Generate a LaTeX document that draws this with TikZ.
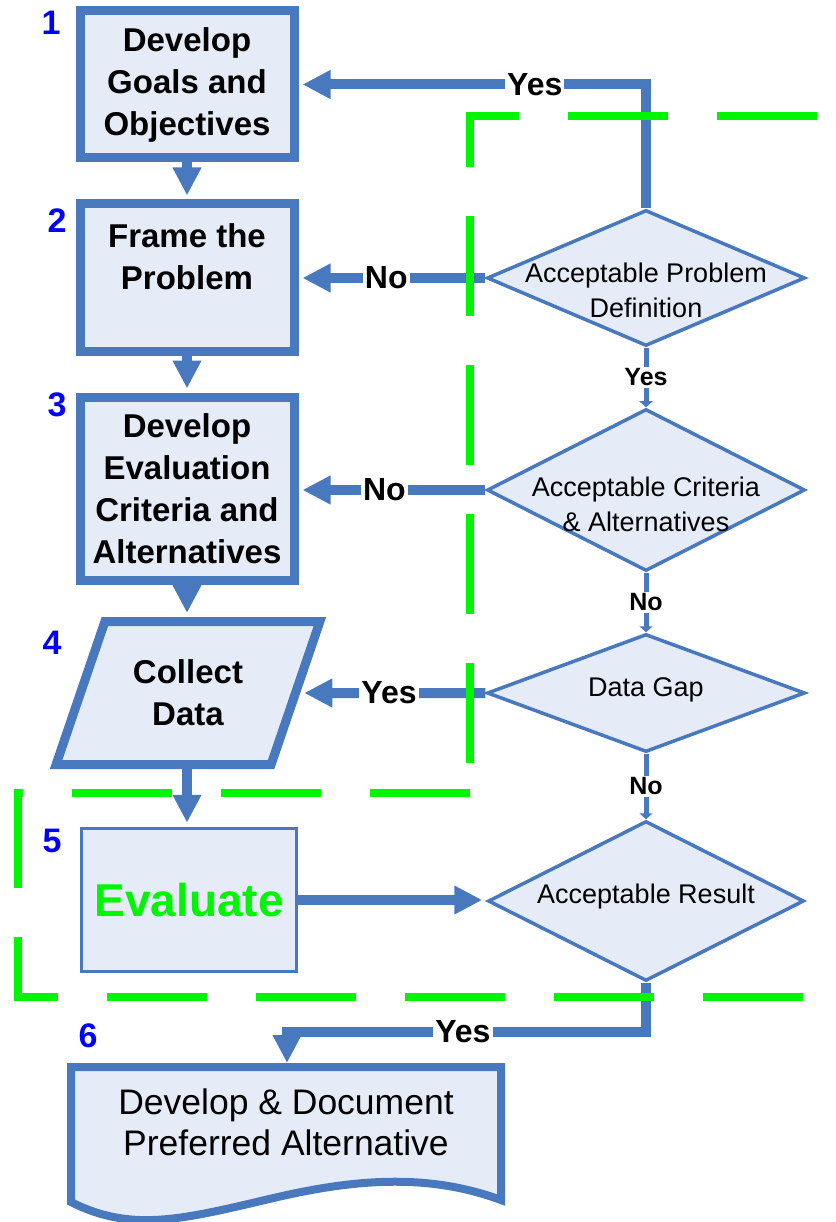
\documentclass[tikz,border=0pt]{standalone}
\usepackage{fontspec}
\setmainfont{Liberation Sans}
\usetikzlibrary{shapes.geometric,arrows.meta}
\definecolor{flowblue}{RGB}{72,120,190}
\definecolor{flowfill}{RGB}{230,236,247}
\definecolor{regiongreen}{RGB}{0,245,0}
\definecolor{numblue}{RGB}{0,0,255}

\begin{document}
\begin{tikzpicture}[x=1pt,y=-1pt]

% ---------- common style ----------
\tikzstyle{procbox}=[draw=flowblue,fill=flowfill,line width=9pt,inner sep=0pt,
  align=center,font=\fontsize{33}{42}\selectfont\bfseries]
\tikzstyle{evalbox}=[draw=flowblue,fill=flowfill,line width=3.5pt,inner sep=0pt,
  text=regiongreen,font=\fontsize{46}{46}\selectfont\bfseries]
\tikzstyle{decision}=[diamond,draw=flowblue,fill=flowfill,line width=3.5pt,inner sep=0pt]
\tikzstyle{dtext}=[align=center,font=\fontsize{27}{35}\selectfont]
\tikzstyle{flow}=[draw=flowblue,line width=10pt,shorten >=4pt,
  -{Triangle[length=28pt,width=27pt]}]
\tikzstyle{link}=[draw=flowblue,line width=5pt,-{Triangle[length=6pt,width=13pt]}]
\tikzstyle{answer}=[fill=white,inner sep=2pt,font=\fontsize{32}{32}\selectfont\bfseries]
\tikzstyle{smallanswer}=[answer,font=\fontsize{25}{25}\selectfont\bfseries]
\tikzstyle{stepnum}=[text=numblue,font=\fontsize{34}{34}\selectfont\bfseries]
\tikzstyle{region}=[draw=regiongreen,line width=8pt,dash pattern=on 100pt off 49pt]

\useasboundingbox (0,0) rectangle (835,1222);

% ================== left column: process steps ==================
\node[procbox,minimum width=214pt,minimum height=147pt] (goals) at (187,84.5)
  {Develop\\Goals and\\Objectives};
\node[procbox,minimum width=214pt,minimum height=147pt] (frame) at (187,277.5)
  {Frame the\\Problem\\\mbox{}};
\node[procbox,minimum width=214pt,minimum height=183pt] (criteria) at (187,488.5)
  {Develop\\Evaluation\\Criteria and\\Alternatives};
\node[procbox,trapezium,trapezium left angle=64,trapezium right angle=116,
  trapezium stretches=true,minimum width=264pt,minimum height=143pt] (collect) at (188,693)
  {Collect\\Data};
\node[evalbox,minimum width=215pt,minimum height=143pt] (evaluate) at (189,900) {Evaluate};

% document shape (step 6)
\draw[draw=flowblue,fill=flowfill,line width=8pt]
  (71,1067) -- (501,1067) -- (501,1200)
  .. controls (420,1170) and (340,1182) .. (265,1200)
  .. controls (180,1220) and (130,1232) .. (71,1202) -- cycle;
\node[anchor=north,minimum width=430pt,minimum height=110pt,align=center,
  font=\fontsize{35.5}{41}\selectfont] (doc) at (286,1067)
  {Develop \& Document\\Preferred Alternative};

% step numbers
\node[stepnum] (n1) at (51,23) {1};
\node[stepnum] (n2) at (57,221) {2};
\node[stepnum] (n3) at (57,405) {3};
\node[stepnum] (n4) at (52,643) {4};
\node[stepnum] (n5) at (52,841) {5};
\node[stepnum] (n6) at (88,1036) {6};

% ================== right column: decisions ==================
\node[decision,minimum width=318pt,minimum height=136pt,
  label={[dtext,yshift=-12pt]center:Acceptable Problem\\Definition}] (d1) at (646,278) {};
\node[decision,minimum width=318pt,minimum height=162pt,
  label={[dtext,yshift=-14pt]center:Acceptable Criteria\\\& Alternatives}] (d2) at (646,490) {};
\node[decision,minimum width=318pt,minimum height=118pt,
  label={[dtext,yshift=3pt]center:Data Gap}] (d3) at (646,693) {};
\node[decision,minimum width=316pt,minimum height=160pt,
  label={[dtext,yshift=4pt]center:Acceptable Result}] (d4) at (646,901) {};

% ================== connectors ==================
\draw[flow] (goals) -- (frame);
\draw[flow] (frame) -- (criteria);
\draw[flow] (criteria.south) -- (criteria.south |- collect.north);
\draw[flow] (collect.south -| criteria.south) -- (evaluate.north -| criteria.south);

\draw[flow] (d1.north) |- (goals.east) node[answer,pos=0.66] {Yes};
\draw[flow] (d1.west) -- (d1.west -| frame.east) node[answer,pos=0.53] {No};
\draw[flow] (d2.west) -- (d2.west -| criteria.east) node[answer,pos=0.54] {No};
\draw[flow] (d3.west) -- (collect) node[answer,pos=0.52] {Yes};
\draw[flow] (evaluate.east) -- (evaluate.east -| d4.west);

\draw[link] (d1) -- (d2) node[smallanswer,midway] {Yes};
\draw[link] (d2) -- (d3) node[smallanswer,midway] {No};
\draw[link] (d3) -- (d4) node[smallanswer,midway] {No};

\coordinate (yesbend) at (287,1032);
\draw[flow] (d4.south) |- node[answer,pos=0.755] {Yes} (yesbend) -- (doc.north -| yesbend);

% ================== dashed regions ==================
\draw[region] (817,116) -- (470,116) -- (470,793);
\draw[region] (470,793) -- (18,793) -- (18,997) -- (805,997);

\end{tikzpicture}
\end{document}
